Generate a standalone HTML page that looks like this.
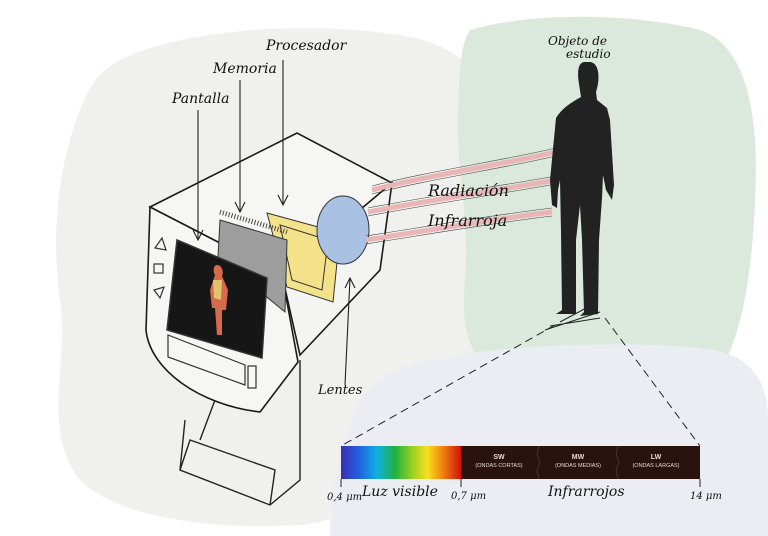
<!DOCTYPE html>
<html><head><meta charset="utf-8"><style>
html,body{margin:0;padding:0;background:#fff;width:768px;height:536px;overflow:hidden}
svg{display:block}
.h{font-family:"DejaVu Serif","Liberation Serif",serif;font-style:italic;fill:#111}
</style></head><body>
<svg width="768" height="536" viewBox="0 0 768 536" xmlns="http://www.w3.org/2000/svg">
<rect width="768" height="536" fill="#fff"/>
<path d="M120,60 C180,30 300,20 400,35 C470,45 500,90 495,150 C490,220 500,300 470,380 C440,430 380,520 300,525 C220,530 120,520 80,480 C40,430 70,360 60,300 C50,230 60,160 80,110 C90,85 100,70 120,60 Z" fill="#f0f0ee"/>
<path d="M470,30 C540,10 640,15 700,30 C745,45 760,110 755,200 C752,280 740,340 720,370 L520,380 C470,375 460,330 465,280 C470,220 455,160 458,110 C460,70 460,45 470,30 Z" fill="#dbe8dc"/>
<path d="M430,360 C500,345 620,340 700,348 C750,352 768,380 768,420 L768,536 L330,536 C330,500 340,440 360,400 C380,375 400,365 430,360 Z" fill="#ecedf2"/>
<g fill="none" stroke="#222" stroke-width="1.4">
<path d="M185,420 L180,470 L270,505 L300,480 L300,360"/>
<path d="M180,470 L190,440 L275,470 L270,505"/>
<path d="M200,440 L215,400"/>
</g>
<g fill="none" stroke="#1a1a1a" stroke-width="1.6">
<path d="M150,207 L297,133 L392,183 L282,275 Z" fill="#f6f6f4"/>
<path d="M150,207 L146,330 C150,370 200,405 260,412 L298,362 L282,275 Z" fill="#f6f6f4"/>
<path d="M282,275 L392,183 L380,270 L300,355 Z" fill="#f4f4f2"/>
</g>
<path d="M267,213 L340,233 L333,302 L287,287 Z" fill="#f3e28a" stroke="#333" stroke-width="1"/>
<path d="M280,225 L328,240 L322,290 L292,280 Z" fill="none" stroke="#333" stroke-width="1"/>
<ellipse cx="343" cy="230" rx="26" ry="34" fill="#a9c1e3" stroke="#333" stroke-width="1"/>
<path d="M220,220 L287,240 L285,312 L218,257 Z" fill="#9d9d9d" stroke="#333" stroke-width="1"/>
<path d="M220,212 L287,232" stroke="#444" stroke-width="5" stroke-dasharray="1 2" fill="none"/>
<path d="M177,240 L267,278 L262,358 L167,330 Z" fill="#161616" stroke="#333" stroke-width="1.5"/>
<path d="M217,265 C213,265 213,272 215,275 L210,290 L212,308 L215,308 L217,335 L222,335 L222,310 L226,310 L228,290 L222,276 C224,272 222,265 217,265 Z" fill="#d66a4a"/>
<path d="M213,280 L222,280 L221,300 L214,298 Z" fill="#e0c36a"/>
<g fill="none" stroke="#333" stroke-width="1.2">
<path d="M155,248 L162,238 L166,250 Z"/>
<rect x="154" y="264" width="9" height="9"/>
<path d="M154,290 L164,287 L160,298 Z"/>
<path d="M168,335 L245,365 L245,385 L168,357 Z"/>
<rect x="248" y="366" width="8" height="22"/>
</g>
<g fill="none" stroke="#e9b5b5" stroke-width="5">
<path d="M372,190 C430,175 500,165 556,152"/>
<path d="M368,212 C430,200 500,190 556,180"/>
<path d="M366,240 C430,230 500,218 552,212"/>
</g>
<g fill="none" stroke="#444" stroke-width="0.6">
<path d="M372,186 C430,171 500,161 556,148"/><path d="M372,194 C430,179 500,169 556,156"/>
<path d="M368,208 C430,196 500,186 556,176"/><path d="M368,216 C430,204 500,194 556,184"/>
<path d="M366,236 C430,226 500,214 552,208"/><path d="M366,244 C430,234 500,222 552,216"/>
</g>
<path d="M584,62 C578,63 577,72 579,84 L581,97 C572,102 562,108 556,118 L550,180 L552,205 L557,208 L558,190 L560,180 L561,232 L562,310 L556,314 L576,314 L576,240 L580,205 L582,240 L584,312 L580,316 L598,314 L599,240 L602,198 L603,175 L606,190 L612,200 L614,185 L610,120 L607,108 L597,100 L596,92 C600,80 600,63 590,62 Z" fill="#222"/>
<path d="M545,330 L600,312 M550,326 L600,318 M560,322 L590,306" stroke="#222" stroke-width="1"/>
<path d="M555,325 L341,446 M605,318 L700,446" stroke="#222" stroke-width="1" stroke-dasharray="8 5" fill="none"/>
<g stroke="#222" stroke-width="1.1" fill="none">
<path d="M198,110 L198,240 M193,230 L198,240 L203,230"/>
<path d="M240,80 L240,212 M235,202 L240,212 L245,202"/>
<path d="M283,60 L283,205 M278,195 L283,205 L288,195"/>
<path d="M345,385 L350,278 M345,288 L350,278 L355,288"/>
</g>
<text class="h" x="172" y="103" font-size="14">Pantalla</text>
<text class="h" x="213" y="73" font-size="14">Memoria</text>
<text class="h" x="266" y="50" font-size="14">Procesador</text>
<text class="h" x="548" y="45" font-size="12">Objeto de</text>
<text class="h" x="566" y="58" font-size="12">estudio</text>
<text class="h" x="428" y="196" font-size="16">Radiación</text>
<text class="h" x="428" y="226" font-size="16">Infrarroja</text>
<text class="h" x="318" y="394" font-size="13">Lentes</text>
<defs><linearGradient id="sp" x1="0" x2="1">
<stop offset="0" stop-color="#3a2fb0"/><stop offset="0.15" stop-color="#2060e0"/><stop offset="0.3" stop-color="#10b0e0"/><stop offset="0.45" stop-color="#20b040"/><stop offset="0.6" stop-color="#a0d020"/><stop offset="0.72" stop-color="#f8e020"/><stop offset="0.85" stop-color="#f08010"/><stop offset="1" stop-color="#d01010"/></linearGradient></defs>
<rect x="341" y="446" width="120" height="33" fill="url(#sp)"/>
<rect x="461" y="446" width="239" height="33" fill="#2a130f"/>
<path d="M539,446 l-2,8 l3,8 l-3,8 l2,9 M618,446 l-2,8 l3,8 l-3,8 l2,9" stroke="#4a3530" fill="none"/>
<g font-family="Liberation Sans, sans-serif" fill="#e8d8d0" text-anchor="middle">
<text x="499" y="459" font-size="7" font-weight="bold">SW</text>
<text x="499" y="467" font-size="5.5">(ONDAS CORTAS)</text>
<text x="578" y="459" font-size="7" font-weight="bold">MW</text>
<text x="578" y="467" font-size="5.5">(ONDAS MEDIAS)</text>
<text x="656" y="459" font-size="7" font-weight="bold">LW</text>
<text x="656" y="467" font-size="5.5">(ONDAS LARGAS)</text>
</g>
<path d="M341,479 L341,487 M461,479 L461,487 M700,479 L700,487" stroke="#222"/>
<text class="h" x="327" y="500" font-size="10">0,4 μm</text>
<text class="h" x="362" y="496" font-size="14">Luz visible</text>
<text class="h" x="451" y="499" font-size="10">0,7 μm</text>
<text class="h" x="548" y="496" font-size="14">Infrarrojos</text>
<text class="h" x="690" y="499" font-size="10">14 μm</text>
</svg>
</body></html>
